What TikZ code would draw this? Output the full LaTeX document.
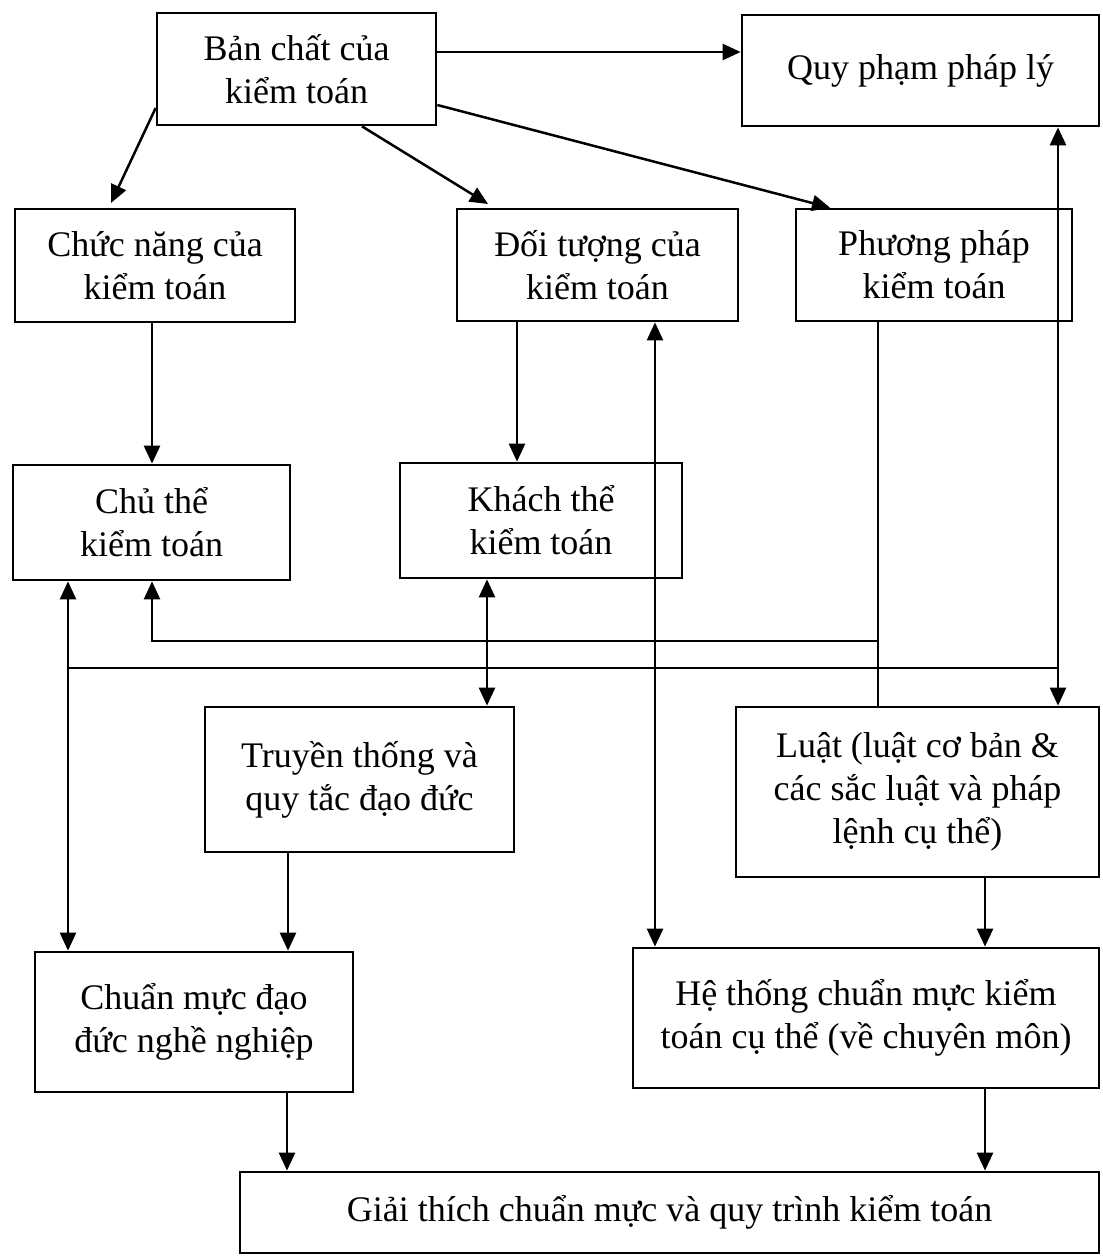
\documentclass[tikz,border=0pt]{standalone}
\usepackage{fontspec}
\setmainfont{Liberation Serif}
\usetikzlibrary{arrows.meta}
\begin{document}
\begin{tikzpicture}[x=1pt,y=-1pt,
  box/.style={draw, line width=2.7pt, inner sep=0pt, align=center,
              font=\fontsize{36}{43}\selectfont},
  link/.style={line width=2.5pt},
  arr/.style={link, -{Triangle[length=18pt,width=16pt]}},
  dbl/.style={link, {Triangle[length=18pt,width=16pt]}-{Triangle[length=18pt,width=16pt]}}]
\useasboundingbox (0,0) rectangle (1102,1257);

% boxes
\node[box, minimum width=279pt, minimum height=112pt] (B1) at (296.5,69) {Bản chất của\\kiểm toán};
\node[box, minimum width=357pt, minimum height=111pt] (B2) at (920.5,70.5) {Quy phạm pháp lý};
\node[box, minimum width=280pt, minimum height=113pt] (B3) at (155,265.5) {Chức năng của\\kiểm toán};
\node[box, minimum width=281pt, minimum height=112pt] (B4) at (597.5,265) {Đối tượng của\\kiểm toán};
\node[box, minimum width=276pt, minimum height=112pt] (B5) at (934,265) {Phương pháp\\kiểm toán};
\node[box, minimum width=277pt, minimum height=115pt] (B6) at (151.5,522.5) {Chủ thể\\kiểm toán};
\node[box, minimum width=282pt, minimum height=115pt] (B7) at (541,520.5) {Khách thể\\kiểm toán};
\node[box, minimum width=309pt, minimum height=145pt] (B8) at (359.5,779.5) {Truyền thống và\\quy tắc đạo đức};
\node[box, minimum width=363pt, minimum height=170pt] (B9) at (917.5,792) {Luật (luật cơ bản \&\\các sắc luật và pháp\\lệnh cụ thể)};
\node[box, minimum width=318pt, minimum height=140pt] (B10) at (194,1022) {Chuẩn mực đạo\\đức nghề nghiệp};
\node[box, minimum width=466pt, minimum height=140pt] (B11) at (866,1018) {Hệ thống chuẩn mực kiểm\\toán cụ thể (về chuyên môn)};
\node[box, minimum width=859pt, minimum height=81pt] (B12) at (669.5,1212.5) {Giải thích chuẩn mực và quy trình kiểm toán};

% junctions of the shared lines
\coordinate (jL) at (68,668);
\coordinate (jR) at (1058,668);
\coordinate (jP) at (878,641);

% from the top box
\draw[arr] (B1.east |- 0,52) -- (B2.west |- 0,52);
\draw[arr] (B1.east |- 0,105) -- (830,0 |- B5.north);
\draw[arr] (B1.west |- 0,108) -- (111,203);
\draw[arr] (362,0 |- B1.south) -- (488,204);

% second row to third row
\draw[arr] (152,0 |- B3.south) -- (152,0 |- B6.north);
\draw[arr] (517,0 |- B4.south) -- (517,0 |- B7.north);
\draw[dbl] (655,0 |- B4.south) -- (655,0 |- B11.north);

% legal norms branch
\draw[dbl] (1058,0 |- B2.south) -- (1058,0 |- B9.north);
\draw[link] (jR) -- (jL);
\draw[arr] (jL) -- (68,0 |- B6.south);
\draw[arr] (jL) -- (68,0 |- B10.north);
\draw[dbl] (487,0 |- B7.south) -- (487,0 |- B8.north);

% methods branch
\draw[link] (878,0 |- B5.south) -- (878,0 |- B9.north);
\draw[arr] (jP) -| (152,0 |- B6.south);

% lower levels
\draw[arr] (288,0 |- B8.south) -- (288,0 |- B10.north);
\draw[arr] (985,0 |- B9.south) -- (985,0 |- B11.north);
\draw[arr] (287,0 |- B10.south) -- (287,0 |- B12.north);
\draw[arr] (985,0 |- B11.south) -- (985,0 |- B12.north);
\end{tikzpicture}
\end{document}
